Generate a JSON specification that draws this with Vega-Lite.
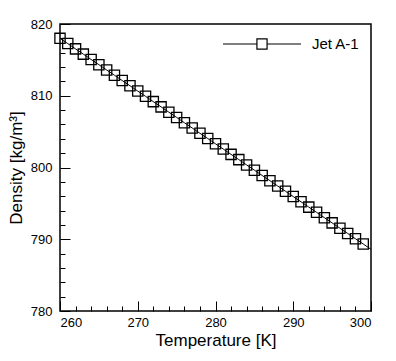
{
  "$schema": "https://vega.github.io/schema/vega-lite/v6.json",
  "width": 311,
  "height": 287,
  "autosize": "none",
  "padding": {"left": 60, "top": 24, "right": 25, "bottom": 50},
  "config": {
    "font": "Liberation Sans",
    "view": {"stroke": "black", "strokeWidth": 1.5},
    "axis": {"grid": false, "domain": false, "tickColor": "black", "labelColor": "black", "titleColor": "black", "labelFont": "Liberation Sans", "titleFont": "Liberation Sans", "labelFontSize": 13, "titleFontSize": 17, "titleFontWeight": "normal", "tickWidth": 1}
  },
  "data": {"values": [
    {"T": 260, "rho": 818.0},
    {"T": 261, "rho": 817.27},
    {"T": 262, "rho": 816.53},
    {"T": 263, "rho": 815.8},
    {"T": 264, "rho": 815.06},
    {"T": 265, "rho": 814.33},
    {"T": 266, "rho": 813.59},
    {"T": 267, "rho": 812.86},
    {"T": 268, "rho": 812.12},
    {"T": 269, "rho": 811.39},
    {"T": 270, "rho": 810.65},
    {"T": 271, "rho": 809.92},
    {"T": 272, "rho": 809.18},
    {"T": 273, "rho": 808.45},
    {"T": 274, "rho": 807.71},
    {"T": 275, "rho": 806.98},
    {"T": 276, "rho": 806.24},
    {"T": 277, "rho": 805.51},
    {"T": 278, "rho": 804.77},
    {"T": 279, "rho": 804.04},
    {"T": 280, "rho": 803.3},
    {"T": 281, "rho": 802.57},
    {"T": 282, "rho": 801.83},
    {"T": 283, "rho": 801.1},
    {"T": 284, "rho": 800.36},
    {"T": 285, "rho": 799.63},
    {"T": 286, "rho": 798.89},
    {"T": 287, "rho": 798.16},
    {"T": 288, "rho": 797.42},
    {"T": 289, "rho": 796.69},
    {"T": 290, "rho": 795.95},
    {"T": 291, "rho": 795.22},
    {"T": 292, "rho": 794.48},
    {"T": 293, "rho": 793.75},
    {"T": 294, "rho": 793.01},
    {"T": 295, "rho": 792.28},
    {"T": 296, "rho": 791.54},
    {"T": 297, "rho": 790.81},
    {"T": 298, "rho": 790.07},
    {"T": 299, "rho": 789.34},
    {"T": 300, "rho": 788.6}
  ]},
  "layer": [
    {
      "mark": {"type": "line", "color": "black", "strokeWidth": 1},
      "encoding": {
        "x": {"field": "T", "type": "quantitative", "scale": {"domain": [260, 300], "nice": false, "zero": false},
              "axis": {"orient": "bottom", "values": [260, 270, 280, 290, 300], "tickSize": -10, "labelPadding": 15, "title": "Temperature [K]", "titlePadding": 3}},
        "y": {"field": "rho", "type": "quantitative", "scale": {"domain": [780, 820], "nice": false, "zero": false},
              "axis": {"orient": "left", "values": [780, 790, 800, 810, 820], "tickSize": -10, "labelPadding": 18, "title": "Density [kg/m³]", "titlePadding": 5}}
      }
    },
    {
      "transform": [{"filter": "datum.T < 300"}],
      "mark": {"type": "point", "shape": "square", "filled": false, "size": 105, "strokeWidth": 1.3, "opacity": 1},
      "encoding": {
        "x": {"field": "T", "type": "quantitative",
              "axis": {"orient": "bottom", "values": [262, 264, 266, 268, 272, 274, 276, 278, 282, 284, 286, 288, 292, 294, 296, 298], "tickSize": -5, "labels": false, "title": null}},
        "y": {"field": "rho", "type": "quantitative",
              "axis": {"orient": "left", "values": [782, 784, 786, 788, 792, 794, 796, 798, 802, 804, 806, 808, 812, 814, 816, 818], "tickSize": -5, "labels": false, "title": null}},
        "color": {"datum": "Jet A-1", "type": "nominal", "scale": {"range": ["black"]},
                  "legend": {"title": null, "orient": "none", "legendX": 162, "legendY": -20, "padding": 0,
                             "symbolType": "M-1,0H-0.13M0.13,0H1M-0.13,-0.13H0.13V0.13H-0.13Z", "symbolSize": 6084,
                             "symbolStrokeColor": "black", "symbolFillColor": "transparent", "symbolStrokeWidth": 1.2,
                             "labelFont": "Liberation Sans", "labelFontSize": 15, "labelColor": "black", "labelOffset": 10}}
      }
    }
  ],
  "resolve": {"axis": {"x": "independent", "y": "independent"}}
}
